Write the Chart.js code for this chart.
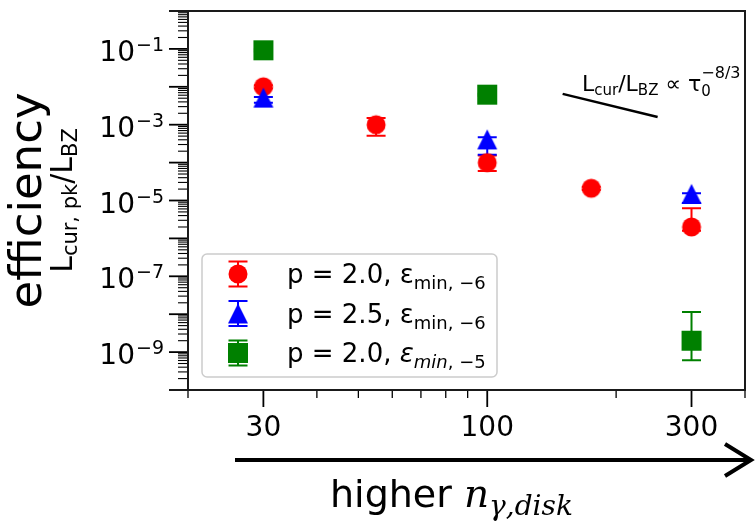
<!DOCTYPE html>
<html>
<head>
<meta charset="utf-8">
<script src="https://cdn.jsdelivr.net/npm/chart.js@4.4.1/dist/chart.umd.min.js"></script>
<style>
 html,body{margin:0;padding:0;background:#fff;}
 #wrap{width:756px;height:526px;}
</style>
</head>
<body>
<div id="wrap"><canvas id="effChart" width="756" height="526"></canvas></div>
<script>
// p = 2.0, eps_min = 1e-6
var xRed  = [30, 55, 100, 175, 300];
var yRed  = [1.0e-2, 1.0e-3, 1.0e-4, 2.1e-5, 2.0e-6];
var loRed = [9.0e-3, 5.1e-4, 6.0e-5, 1.9e-5, 1.6e-6];
var hiRed = [1.1e-2, 1.5e-3, 1.55e-4, 2.3e-5, 6.2e-6];

// p = 2.5, eps_min = 1e-6
var xBlue  = [30, 100, 300];
var yBlue  = [5.2e-3, 4.1e-4, 1.5e-5];
var loBlue = [3.8e-3, 1.6e-4, 8.6e-6];
var hiBlue = [5.4e-3, 4.7e-4, 1.55e-5];

// p = 2.0, eps_min = 1e-5
var xGreen  = [30, 100, 300];
var yGreen  = [9.2e-2, 6.2e-3, 2.0e-9];
var loGreen = [8.6e-2, 5.8e-3, 6.1e-10];
var hiGreen = [9.8e-2, 6.6e-3, 1.14e-8];

// tau_0^(-8/3) guide
var xGuide = [150, 250];
var yGuide = [6.5e-3, 1.6e-3];

var xMajorTicks = [30, 100, 300];
var xMinorTicks = [20, 40, 50, 60, 70, 80, 90, 200, 400];
var yLabelExps = [-1, -3, -5, -7, -9];

var RED = '#ff0000', BLUE = '#0000ff', GREEN = '#008000';

function points(xs, ys){
	var out = [];
	for(var k=0;k<xs.length;k++) out.push({x: xs[k], y: ys[k]});
	return out;
}

function makeMarker(shape, color){
	var c = document.createElement('canvas');
	c.width = 24; c.height = 24;
	var g = c.getContext('2d');
	g.fillStyle = color;
	g.beginPath();
	if(shape=='circle'){
		g.arc(12, 12, 9.5, 0, Math.PI*2);
	}else if(shape=='triangle'){
		g.moveTo(12, 2); g.lineTo(22, 22); g.lineTo(2, 22); g.closePath();
	}else{
		g.rect(2, 2, 20, 20);
	}
	g.fill();
	return c;
}

var mkRed = makeMarker('circle', RED);
var mkBlue = makeMarker('triangle', BLUE);
var mkGreen = makeMarker('square', GREEN);

var series = [
	{x: xRed, lo: loRed, hi: hiRed, color: RED},
	{x: xBlue, lo: loBlue, hi: hiBlue, color: BLUE},
	{x: xGreen, lo: loGreen, hi: hiGreen, color: GREEN}
];

// draws a list of text pieces left to right, returns the end x
function runs(ctx, x, y, list){
	for(var k=0;k<list.length;k++){
		var r = list[k];
		ctx.font = r.f;
		ctx.fillText(r.t, x, y + (r.dy || 0));
		x += ctx.measureText(r.t).width;
	}
	return x;
}
function runsWidth(ctx, list){
	var w = 0;
	for(var k=0;k<list.length;k++){ ctx.font = list[k].f; w += ctx.measureText(list[k].t).width; }
	return w;
}

var SANS = '"DejaVu Sans", sans-serif';

var errorBars = {
	id: 'errorBars',
	beforeDatasetsDraw: function(chart){
		var ctx = chart.ctx, xs = chart.scales.x, ys = chart.scales.y;
		ctx.save();
		ctx.lineWidth = 2;
		for(var s=0;s<series.length;s++){
			var d = series[s];
			ctx.strokeStyle = d.color;
			for(var k=0;k<d.x.length;k++){
				var px = xs.getPixelForValue(d.x[k]);
				var pl = ys.getPixelForValue(d.lo[k]);
				var ph = ys.getPixelForValue(d.hi[k]);
				ctx.beginPath();
				ctx.moveTo(px, pl); ctx.lineTo(px, ph);
				ctx.moveTo(px-9.5, pl); ctx.lineTo(px+9.5, pl);
				ctx.moveTo(px-9.5, ph); ctx.lineTo(px+9.5, ph);
				ctx.stroke();
			}
		}
		ctx.restore();
	}
};

var decorations = {
	id: 'decorations',
	afterDraw: function(chart){
		var ctx = chart.ctx, a = chart.chartArea;
		var xs = chart.scales.x, ys = chart.scales.y;
		ctx.save();
		ctx.fillStyle = '#000';
		ctx.strokeStyle = '#000';

		// ticks
		for(var k=0;k<xs.ticks.length;k++){
			var t = xs.ticks[k], px = xs.getPixelForValue(t.value);
			ctx.lineWidth = t.major ? 1.8 : 1.3;
			ctx.beginPath(); ctx.moveTo(px, a.bottom); ctx.lineTo(px, a.bottom + (t.major ? 17 : 8)); ctx.stroke();
			if(t.major){
				ctx.font = '28px ' + SANS;
				ctx.textAlign = 'center';
				ctx.fillText(t.label, px, 436);
			}
		}
		ctx.textAlign = 'left';
		for(var k=0;k<ys.ticks.length;k++){
			var t = ys.ticks[k], py = ys.getPixelForValue(t.value);
			ctx.lineWidth = t.major ? 1.8 : 1.1;
			ctx.beginPath(); ctx.moveTo(a.left, py); ctx.lineTo(a.left - (t.major ? 19 : 10), py); ctx.stroke();
		}
		for(var k=0;k<yLabelExps.length;k++){
			var e = yLabelExps[k], py = ys.getPixelForValue(Math.pow(10, e));
			var sup = '\u2212' + (-e);
			ctx.font = '19px ' + SANS;
			var sw = ctx.measureText(sup).width;
			ctx.fillText(sup, 164 - sw, py + 2);
			ctx.font = '28px ' + SANS;
			ctx.textAlign = 'right';
			ctx.fillText('10', 164 - sw - 1, py + 12);
			ctx.textAlign = 'left';
		}

		// frame
		ctx.lineWidth = 2;
		ctx.strokeStyle = '#1a1a1a';
		ctx.strokeRect(a.left, a.top, a.right - a.left, a.bottom - a.top);

		// y title
		var cy = (a.top + a.bottom) / 2;
		ctx.save();
		ctx.translate(41, cy); ctx.rotate(-Math.PI/2);
		ctx.font = '45px ' + SANS; ctx.textAlign = 'center';
		ctx.fillText('efficiency', 0, 0);
		ctx.restore();
		var yt = [
			{t: 'L', f: '30px ' + SANS}, {t: 'cur, pk', f: '21px ' + SANS, dy: 5},
			{t: '/L', f: '30px ' + SANS}, {t: 'BZ', f: '21px ' + SANS, dy: 5}
		];
		ctx.save();
		ctx.translate(72, cy); ctx.rotate(-Math.PI/2);
		runs(ctx, -runsWidth(ctx, yt)/2, 0, yt);
		ctx.restore();

		// arrow and x title
		ctx.lineWidth = 4;
		ctx.strokeStyle = '#000';
		ctx.beginPath(); ctx.moveTo(235, 460); ctx.lineTo(750, 460); ctx.stroke();
		ctx.beginPath(); ctx.moveTo(725, 444); ctx.lineTo(751, 460); ctx.lineTo(725, 476); ctx.stroke();
		runs(ctx, 330, 507, [
			{t: 'higher ', f: '38px ' + SANS},
			{t: 'n', f: 'italic 39px "DejaVu Serif", serif'},
			{t: '\u03b3,disk', f: 'italic 28px "DejaVu Serif", serif', dy: 8}
		]);

		// slope annotation
		var ax = runs(ctx, 582, 91, [
			{t: 'L', f: '22px ' + SANS}, {t: 'cur', f: '15px ' + SANS, dy: 4},
			{t: '/L', f: '22px ' + SANS}, {t: 'BZ', f: '15px ' + SANS, dy: 4},
			{t: ' \u221d \u03c4', f: '22px ' + SANS}
		]);
		ctx.font = '15px ' + SANS; ctx.fillText('0', ax, 96);
		ctx.font = '16px ' + SANS; ctx.fillText('\u22128/3', ax, 78);

		// legend
		ctx.fillStyle = 'rgba(255,255,255,0.8)';
		ctx.strokeStyle = '#cccccc';
		ctx.lineWidth = 1.5;
		ctx.beginPath();
		ctx.roundRect(202, 254, 295, 123, 5);
		ctx.fill(); ctx.stroke();
		var rows = [
			{mk: mkRed, color: RED, text: [
				{t: 'p = 2.0, \u03b5', f: '26px ' + SANS}, {t: 'min, \u22126', f: '18px ' + SANS, dy: 6}]},
			{mk: mkBlue, color: BLUE, text: [
				{t: 'p = 2.5, \u03b5', f: '26px ' + SANS}, {t: 'min, \u22126', f: '18px ' + SANS, dy: 6}]},
			{mk: mkGreen, color: GREEN, text: [
				{t: 'p = 2.0, ', f: '26px ' + SANS}, {t: '\u03b5', f: 'italic 26px ' + SANS},
				{t: 'min', f: 'italic 18px ' + SANS, dy: 6}, {t: ', \u22125', f: '18px ' + SANS, dy: 6}]}
		];
		for(var k=0;k<rows.length;k++){
			var ry = 274 + k*39.5, r = rows[k];
			ctx.strokeStyle = r.color; ctx.lineWidth = 2;
			ctx.beginPath();
			ctx.moveTo(238, ry-12.5); ctx.lineTo(238, ry+12.5);
			ctx.moveTo(228.5, ry-12.5); ctx.lineTo(247.5, ry-12.5);
			ctx.moveTo(228.5, ry+12.5); ctx.lineTo(247.5, ry+12.5);
			ctx.stroke();
			ctx.drawImage(r.mk, 238-12, ry-12);
			ctx.fillStyle = '#000';
			runs(ctx, 287, ry + 9, r.text);
		}
		ctx.restore();
	}
};

function buildXTicks(scale){
	var t = [];
	for(var k=0;k<xMinorTicks.length;k++) t.push({value: xMinorTicks[k], major: false, label: ''});
	for(var k=0;k<xMajorTicks.length;k++) t.push({value: xMajorTicks[k], major: true, label: String(xMajorTicks[k])});
	scale.ticks = t;
}
function buildYTicks(scale){
	var t = [];
	for(var e=-10;e<=0;e++){
		t.push({value: Math.pow(10, e), major: true});
		if(e<0) for(var m=2;m<=9;m++) t.push({value: m*Math.pow(10, e), major: false});
	}
	scale.ticks = t;
}

var ctx = document.getElementById('effChart').getContext('2d');
var chart = new Chart(ctx, {
	type: 'scatter',
	data: {
		datasets: [
			{label: 'p=2.5', data: points(xBlue, yBlue), pointStyle: mkBlue, pointRadius: 10, order: 0},
			{label: 'p=2.0 e-6', data: points(xRed, yRed), pointStyle: mkRed, pointRadius: 10, order: 1},
			{label: 'p=2.0 e-5', data: points(xGreen, yGreen), pointStyle: mkGreen, pointRadius: 10, order: 2},
			{label: 'guide', data: points(xGuide, yGuide), showLine: true, borderColor: '#000', borderWidth: 2.5,
			 pointRadius: 0, order: 3}
		]
	},
	options: {
		responsive: false,
		animation: false,
		events: [],
		layout: {padding: {left: 0, right: 3, top: 9, bottom: 0}},
		plugins: {legend: {display: false}, tooltip: {enabled: false}},
		scales: {
			x: {type: 'logarithmic', min: 20, max: 400,
				grid: {display: false}, border: {display: false}, ticks: {display: false},
				afterBuildTicks: buildXTicks,
				afterFit: function(s){ s.height = 136; }},
			y: {type: 'logarithmic', min: 1e-10, max: 1,
				grid: {display: false}, border: {display: false}, ticks: {display: false},
				afterBuildTicks: buildYTicks,
				afterFit: function(s){ s.width = 188; }}
		}
	},
	plugins: [errorBars, decorations]
});
</script>
</body>
</html>
